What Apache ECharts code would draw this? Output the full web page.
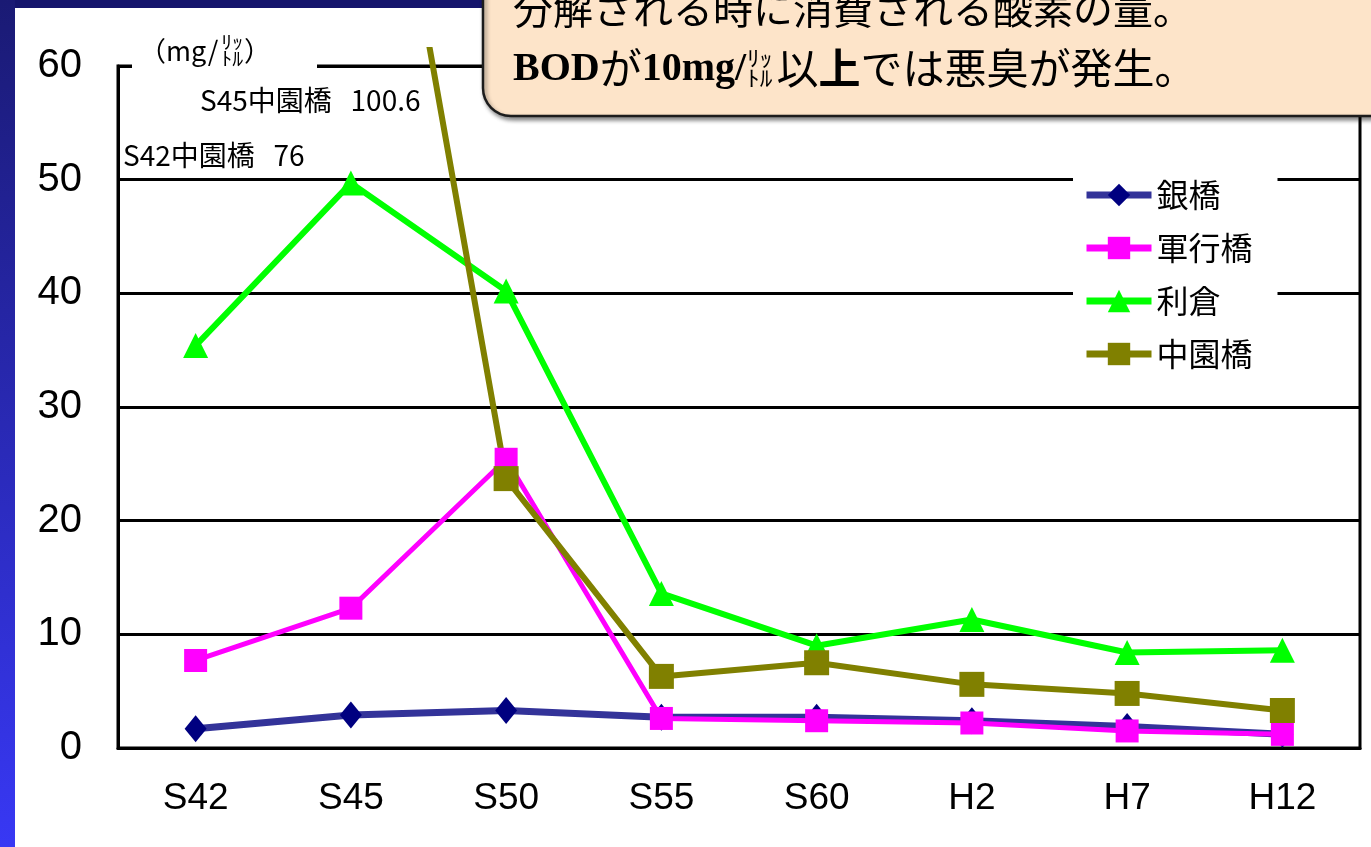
<!DOCTYPE html>
<html><head><meta charset="utf-8">
<script src="https://cdn.jsdelivr.net/npm/echarts@6/dist/echarts.min.js"></script>
<style>html,body{margin:0;padding:0;background:#fff;overflow:hidden}#c{width:1371px;height:847px}</style>
</head><body><div id="c"></div>
<script>
// ---- data ----
const categories = ['S42', 'S45', 'S50', 'S55', 'S60', 'H2', 'H7', 'H12'];
const seriesNames = ['銀橋', '軍行橋', '利倉', '中園橋'];
const ginbashi = [1.7, 2.9, 3.3, 2.7, 2.7, 2.4, 1.9, 1.2];
const gunkobashi = [7.7, 12.3, 25.4, 2.6, 2.4, 2.2, 1.5, 1.2];
const rikura = [35.4, 49.7, 40.2, 13.6, 9.0, 11.3, 8.4, 8.6];
const nakazonobashi = [76, 100.6, 23.7, 6.3, 7.5, 5.6, 4.8, 3.3];
const yTicks = [0, 10, 20, 30, 40, 50, 60];
const unitLabel = ['（mg/', 'ﾘｯ', 'ﾄﾙ', '）'];
const calloutLine1 = '分解される時に消費される酸素の量。';
const calloutLine2 = ['BOD', 'が', '10mg/', 'ﾘｯ', 'ﾄﾙ', '以', '上', 'では悪臭が発生。'];

// ---- helpers ----
const AXISFONT = '"Liberation Sans", Arial, sans-serif';
const JP = '"Noto Sans CJK JP", sans-serif';
const SERIF = '"Liberation Serif", "Times New Roman", serif';
const mctx = document.createElement('canvas').getContext('2d');
function tw(text, size, family, weight) {
  mctx.font = (weight || 'normal') + ' ' + size + 'px ' + family;
  return mctx.measureText(text).width;
}
function txt(text, x, y, size, family, weight, extra) {
  return Object.assign({
    type: 'text', x: x, y: y, z: 30,
    style: { text: text, fontSize: size, fontFamily: family, fontWeight: weight || 'normal',
             fill: '#000', verticalAlign: 'middle', align: 'left' }
  }, extra || {});
}

const graphics = [];
// white mask above the plot where the off-scale line leaves the chart area
graphics.push({ type: 'rect', z: 19, shape: { x: 380, y: 0, width: 110, height: 47 }, style: { fill: '#fff' } });
// background bands
graphics.push({ type: 'rect', z: 20, shape: { x: 0, y: 0, width: 1371, height: 8 }, style: { fill: '#15156c' } });
graphics.push({ type: 'rect', z: 21, shape: { x: 0, y: 0, width: 15, height: 847 },
  style: { fill: new echarts.graphic.LinearGradient(0, 0, 0, 1, [
    { offset: 0, color: '#1a1a74' }, { offset: 1, color: '#3838f4' }]) } });

// callout
graphics.push({ type: 'rect', z: 25, shape: { x: 483, y: -60, width: 1000, height: 176, r: 28 },
  style: { fill: '#FDE4C9', stroke: '#1c1c1c', lineWidth: 2.5,
           shadowBlur: 4, shadowOffsetX: 2, shadowOffsetY: 3, shadowColor: 'rgba(0,0,0,0.45)' } });
graphics.push(txt(calloutLine1, 513, 9, 40, JP));
(function () {
  let x = 513; const y = 68;
  graphics.push(txt(calloutLine2[0], x, y + 2, 40, SERIF, 'bold')); x += tw(calloutLine2[0], 40, SERIF, 'bold');
  graphics.push(txt(calloutLine2[1], x, y, 42, JP)); x += tw(calloutLine2[1], 42, JP);
  graphics.push(txt(calloutLine2[2], x, y + 2, 40, SERIF, 'bold')); x += tw(calloutLine2[2], 40, SERIF, 'bold');
  x += 1;
  graphics.push(txt(calloutLine2[3], x, y - 10, 22, JP, 'normal', { scaleX: 1.15 }));
  graphics.push(txt(calloutLine2[4], x, y + 10, 22, JP, 'normal', { scaleX: 1.15 }));
  x += tw(calloutLine2[3], 22, JP) * 1.15 + 4;
  graphics.push(txt(calloutLine2[5], x, y, 42, JP)); x += tw(calloutLine2[5], 42, JP);
  graphics.push(txt(calloutLine2[6], x, y, 42, JP, 'bold')); x += tw(calloutLine2[6], 42, JP, 'bold');
  graphics.push(txt(calloutLine2[7], x, y, 42, JP));
})();

// unit label with white backing
graphics.push({ type: 'rect', z: 26, shape: { x: 132, y: 32, width: 185, height: 40 }, style: { fill: '#fff' } });
(function () {
  let x = 139; const y = 51;
  graphics.push(txt(unitLabel[0], x, y, 27, JP)); x += tw(unitLabel[0], 27, JP) + 3;
  graphics.push(txt(unitLabel[1], x, y - 9, 19, JP, 'normal', { scaleX: 1.15 }));
  graphics.push(txt(unitLabel[2], x, y + 8, 19, JP, 'normal', { scaleX: 1.15 }));
  x += tw(unitLabel[1], 19, JP) * 1.15 + 1;
  graphics.push(txt(unitLabel[3], x, y, 27, JP));
})();

// off-scale notes for 中園橋
graphics.push(txt(categories[1] + seriesNames[3] + '   ' + nakazonobashi[1], 200, 100, 28, JP));
graphics.push(txt(categories[0] + seriesNames[3] + '   ' + nakazonobashi[0], 123, 155, 28, JP));

const chart = echarts.init(document.getElementById('c'));
chart.setOption({
  animation: false,
  backgroundColor: '#fff',
  grid: { left: 118, right: 11, top: 66, bottom: 99, show: true, borderColor: '#000', borderWidth: 3 },
  legend: {
    data: seriesNames, orient: 'vertical', left: 1073, top: 167,
    backgroundColor: '#fff', padding: [12, 25, 12, 10],
    itemWidth: 65, itemHeight: 28, itemGap: 21,
    lineStyle: { width: 7 },
    textStyle: { fontSize: 32, fontFamily: JP, color: '#000' }
  },
  xAxis: {
    type: 'category', data: categories, boundaryGap: true,
    axisLine: { lineStyle: { color: '#000', width: 3 } },
    axisTick: { inside: true, length: 12, lineStyle: { color: '#000', width: 3 } },
    axisLabel: { fontSize: 37, fontFamily: AXISFONT, color: '#000', margin: 32, interval: 0 }
  },
  yAxis: {
    type: 'value', min: yTicks[0], max: yTicks[yTicks.length - 1], interval: yTicks[1] - yTicks[0],
    axisLine: { show: true, lineStyle: { color: '#000', width: 3 } },
    axisTick: { show: false },
    splitLine: { lineStyle: { color: '#000', width: 3 } },
    axisLabel: { fontSize: 40, fontFamily: AXISFONT, color: '#000', margin: 36 }
  },
  series: [
    { name: seriesNames[0], type: 'line', data: ginbashi, symbol: 'diamond', symbolSize: [22, 27],
      lineStyle: { color: '#333399', width: 7 }, itemStyle: { color: '#000080' } },
    { name: seriesNames[1], type: 'line', data: gunkobashi, symbol: 'rect', symbolSize: 23,
      lineStyle: { color: '#FF00FF', width: 5 }, itemStyle: { color: '#FF00FF' } },
    { name: seriesNames[2], type: 'line', data: rikura, symbol: 'triangle', symbolSize: [25, 25],
      lineStyle: { color: '#00FF00', width: 6 }, itemStyle: { color: '#00FF00' } },
    { name: seriesNames[3], type: 'line', data: nakazonobashi, symbol: 'rect', symbolSize: 25, clip: false,
      lineStyle: { color: '#808000', width: 6 }, itemStyle: { color: '#808000' } }
  ],
  graphic: { elements: graphics }
});
</script></body></html>
